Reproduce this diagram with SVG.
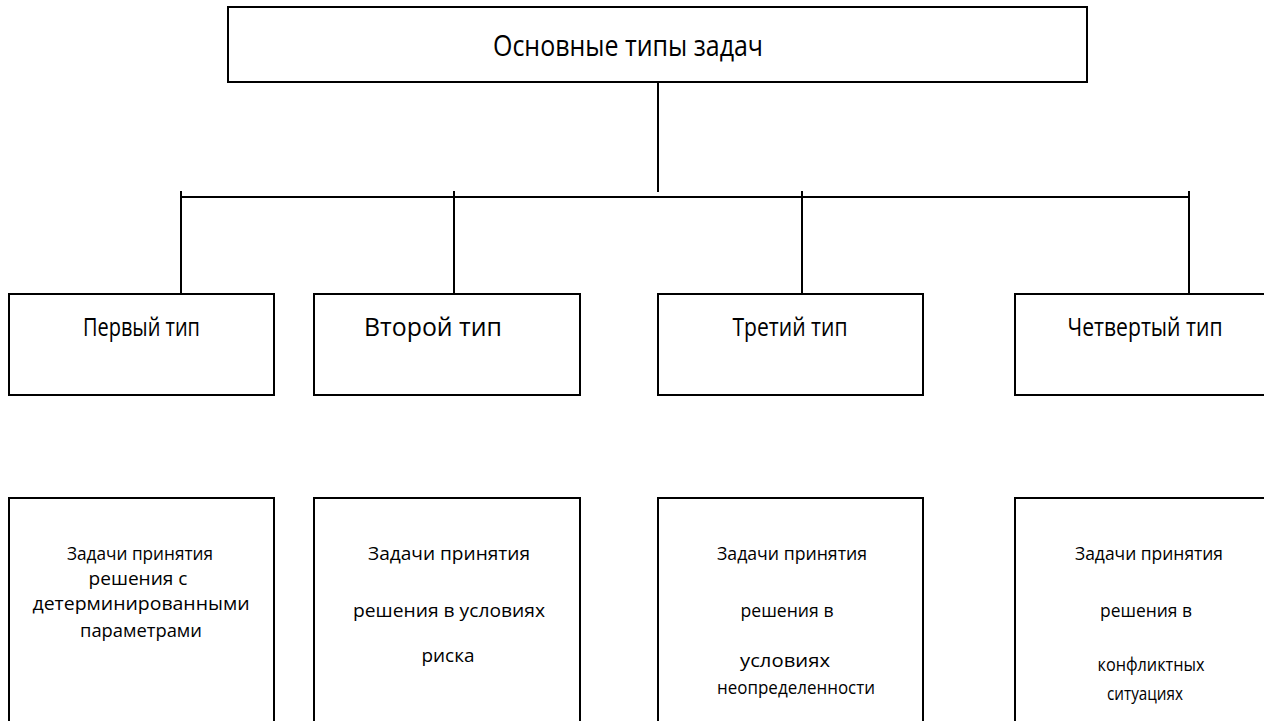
<svg xmlns="http://www.w3.org/2000/svg" width="1264" height="721" viewBox="0 0 1264 721">
<style>
.box{fill:#fff;stroke:#000;stroke-width:2}
.ln{stroke:#000;stroke-width:2;fill:none}
text{font-family:"Open Sans","Liberation Sans",sans-serif;fill:#000;text-anchor:middle}
.t0{font-size:30px}
.t1{font-size:25px}
.t2{font-size:19px}
</style>
<rect width="1264" height="721" fill="#fff"/>
<g id="connectors">
<line class="ln" x1="658" y1="83" x2="658" y2="192"/>
<line class="ln" x1="180" y1="197" x2="1190" y2="197"/>
<line class="ln" x1="181" y1="191" x2="181" y2="294"/>
<line class="ln" x1="454" y1="191" x2="454" y2="294"/>
<line class="ln" x1="802" y1="191" x2="802" y2="294"/>
<line class="ln" x1="1189" y1="191" x2="1189" y2="294"/>
</g>
<g id="root">
<rect class="box" x="228" y="7" width="859" height="75"/>
<text class="t0" x="628" y="56" textLength="270" lengthAdjust="spacingAndGlyphs">Основные типы задач</text>
</g>
<g id="type1">
<rect class="box" x="9" y="294" width="265" height="101"/>
<text class="t1" x="141.5" y="336" textLength="117" lengthAdjust="spacingAndGlyphs">Первый тип</text>
</g>
<g id="type2">
<rect class="box" x="314" y="294" width="266" height="101"/>
<text class="t1" x="433" y="336" textLength="138" lengthAdjust="spacingAndGlyphs">Второй тип</text>
</g>
<g id="type3">
<rect class="box" x="658" y="294" width="265" height="101"/>
<text class="t1" x="790" y="336" textLength="115" lengthAdjust="spacingAndGlyphs">Третий тип</text>
</g>
<g id="type4">
<rect class="box" x="1015" y="294" width="275" height="101"/>
<text class="t1" x="1145" y="336" textLength="155" lengthAdjust="spacingAndGlyphs">Четвертый тип</text>
</g>
<g id="desc1">
<rect class="box" x="9" y="498" width="265" height="240"/>
<text class="t2" x="140" y="560" textLength="146" lengthAdjust="spacingAndGlyphs">Задачи принятия</text>
<text class="t2" x="138" y="585" textLength="99" lengthAdjust="spacingAndGlyphs">решения с</text>
<text class="t2" x="141" y="610" textLength="217" lengthAdjust="spacingAndGlyphs">детерминированными</text>
<text class="t2" x="141" y="637" textLength="122" lengthAdjust="spacingAndGlyphs">параметрами</text>
</g>
<g id="desc2">
<rect class="box" x="314" y="498" width="266" height="240"/>
<text class="t2" x="449" y="560" textLength="162" lengthAdjust="spacingAndGlyphs">Задачи принятия</text>
<text class="t2" x="449" y="617" textLength="192" lengthAdjust="spacingAndGlyphs">решения в условиях</text>
<text class="t2" x="448" y="662" textLength="53" lengthAdjust="spacingAndGlyphs">риска</text>
</g>
<g id="desc3">
<rect class="box" x="658" y="498" width="265" height="240"/>
<text class="t2" x="792" y="560" textLength="150" lengthAdjust="spacingAndGlyphs">Задачи принятия</text>
<text class="t2" x="787" y="617" textLength="93" lengthAdjust="spacingAndGlyphs">решения в</text>
<text class="t2" x="785" y="667" textLength="90" lengthAdjust="spacingAndGlyphs">условиях</text>
<text class="t2" x="796" y="694" textLength="158" lengthAdjust="spacingAndGlyphs">неопределенности</text>
</g>
<g id="desc4">
<rect class="box" x="1015" y="498" width="275" height="240"/>
<text class="t2" x="1149" y="560" textLength="148" lengthAdjust="spacingAndGlyphs">Задачи принятия</text>
<text class="t2" x="1146" y="617" textLength="92" lengthAdjust="spacingAndGlyphs">решения в</text>
<text class="t2" x="1151" y="671" textLength="107" lengthAdjust="spacingAndGlyphs">конфликтных</text>
<text class="t2" x="1145" y="700" textLength="76" lengthAdjust="spacingAndGlyphs">ситуациях</text>
</g>
</svg>
